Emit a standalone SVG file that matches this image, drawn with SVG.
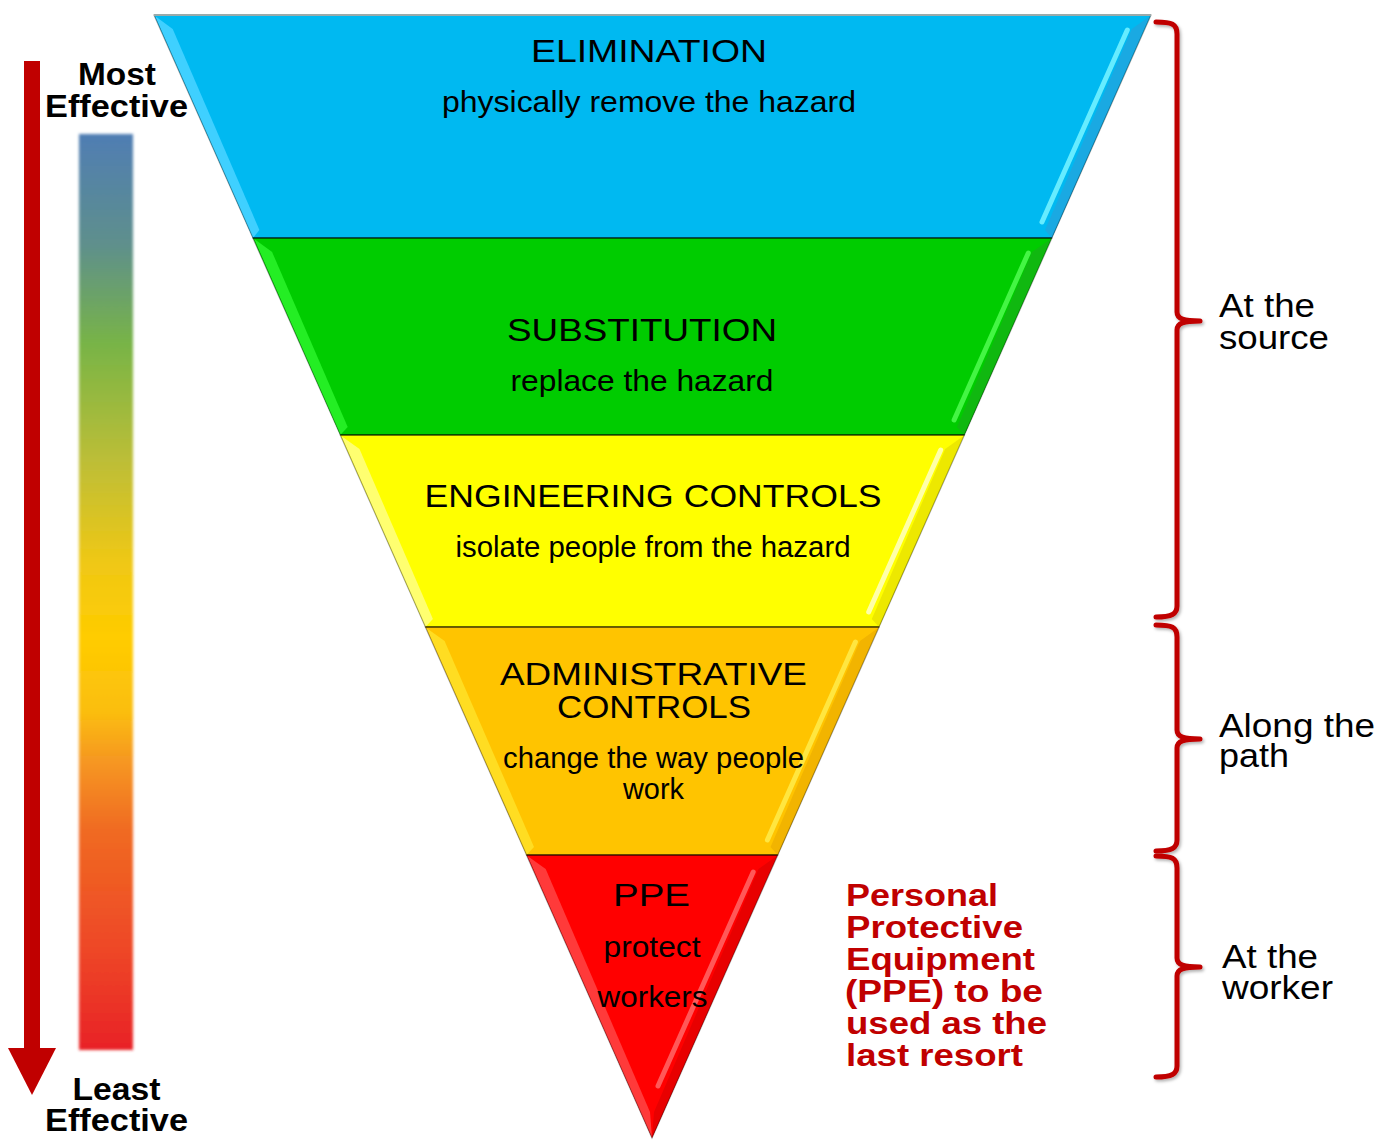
<svg xmlns="http://www.w3.org/2000/svg" width="1389" height="1140" viewBox="0 0 1389 1140">
<defs>
<linearGradient id="bar" x1="0" y1="0" x2="0" y2="1">
<stop offset="0" stop-color="#4F7DB3"/>
<stop offset="0.12" stop-color="#5E8F8C"/>
<stop offset="0.23" stop-color="#78B446"/>
<stop offset="0.36" stop-color="#BEBE36"/>
<stop offset="0.47" stop-color="#F0C814"/>
<stop offset="0.55" stop-color="#FFCC00"/>
<stop offset="0.63" stop-color="#FBBE0E"/>
<stop offset="0.68" stop-color="#F69A20"/>
<stop offset="0.76" stop-color="#F06A22"/>
<stop offset="0.88" stop-color="#EE4A26"/>
<stop offset="1" stop-color="#E82226"/>
</linearGradient>
<filter id="soft" x="-20%" y="-5%" width="140%" height="110%"><feGaussianBlur stdDeviation="1.4"/></filter>
<filter id="sh" x="-20%" y="-5%" width="140%" height="110%"><feDropShadow dx="1.5" dy="2" stdDeviation="1.5" flood-color="#000" flood-opacity="0.3"/></filter>
</defs>
<style>
.h{font-family:"Liberation Sans",Arial,sans-serif;font-size:31px;fill:#000;text-anchor:middle}
.s{font-family:"Liberation Sans",Arial,sans-serif;font-size:29px;fill:#000;text-anchor:middle}
.b{font-family:"Liberation Sans",Arial,sans-serif;font-size:32px;font-weight:bold;fill:#000;text-anchor:middle}
.r{font-family:"Liberation Sans",Arial,sans-serif;font-size:32px;font-weight:bold;fill:#C00000}
.l{font-family:"Liberation Sans",Arial,sans-serif;font-size:34px;fill:#000}
.edge{fill:none;stroke:rgba(0,0,0,0.35);stroke-width:1.2}
.sep{stroke:rgba(0,0,0,0.45);stroke-width:2}
.hl{stroke-width:5;stroke-linecap:round}
.brace{fill:none;stroke:#C00000;stroke-width:5;stroke-linecap:round;stroke-linejoin:round}
</style>

<g id="scale">
<rect x="24" y="61" width="16" height="989" fill="#C00000"/>
<polygon points="8,1048 56,1048 32,1095" fill="#C00000"/>
<rect x="79" y="134" width="54" height="916" fill="url(#bar)" filter="url(#soft)"/>
<text class="b" x="117" y="85" textLength="78" lengthAdjust="spacingAndGlyphs">Most</text>
<text class="b" x="116.5" y="117" textLength="143" lengthAdjust="spacingAndGlyphs">Effective</text>
<text class="b" x="116.5" y="1100" textLength="88" lengthAdjust="spacingAndGlyphs">Least</text>
<text class="b" x="116.5" y="1131" textLength="143" lengthAdjust="spacingAndGlyphs">Effective</text>
</g>

<g id="elimination">
<polygon points="154,15 1151,15 1051.9,238 252.9,238" fill="#00B9F1"/>
<polygon points="155,16 252.9,238 259.4,230 172.7,29" fill="#3FD0FF"/>
<polygon points="1150,16 1051.9,238 1045,230 1131.8,29" fill="#1AA9E2"/>
<line class="hl" x1="1127.3" y1="30" x2="1042" y2="222" stroke="#66ECFF"/>
<polygon class="edge" points="154,15 1151,15 1051.9,238 252.9,238"/>
<line x1="154" y1="15" x2="1151" y2="15" stroke="#9AA" stroke-width="2"/>
<text class="h" x="649" y="62" textLength="236" lengthAdjust="spacingAndGlyphs">ELIMINATION</text>
<text class="s" x="649" y="112" textLength="414" lengthAdjust="spacingAndGlyphs">physically remove the hazard</text>
</g>

<g id="substitution">
<polygon points="252.9,238 1051.9,238 964.4,435 340.3,435" fill="#00CC00"/>
<polygon points="254.3,239 340.3,435 347.7,427 272.1,252" fill="#24EE24"/>
<polygon points="1050.9,239 964.4,435 957,427 1032,252" fill="#10B810"/>
<line class="hl" x1="1028.3" y1="253" x2="954.1" y2="420" stroke="#44F544"/>
<polygon class="edge" points="252.9,238 1051.9,238 964.4,435 340.3,435"/>
<text class="h" x="642" y="341" textLength="270" lengthAdjust="spacingAndGlyphs">SUBSTITUTION</text>
<text class="s" x="642" y="391" textLength="263" lengthAdjust="spacingAndGlyphs">replace the hazard</text>
</g>

<g id="engineering">
<polygon points="340.3,435 964.4,435 879.1,627 425.4,627" fill="#FFFF00"/>
<polygon points="341.3,436 425.4,627 432.9,619 359.5,449" fill="#FFFF70"/>
<polygon points="963.4,436 879.1,627 871.8,619 945.2,449" fill="#EDE800"/>
<line class="hl" x1="940.7" y1="450" x2="868.7" y2="612" stroke="#FFFFA8"/>
<polygon class="edge" points="340.3,435 964.4,435 879.1,627 425.4,627"/>
<text class="h" x="653" y="507" textLength="457" lengthAdjust="spacingAndGlyphs">ENGINEERING CONTROLS</text>
<text class="s" x="653" y="557" textLength="395" lengthAdjust="spacingAndGlyphs">isolate people from the hazard</text>
</g>

<g id="administrative">
<polygon points="425.4,627 879.1,627 777.8,855 526.5,855" fill="#FFC400"/>
<polygon points="426.4,628 526.5,855 534,847 444.6,641" fill="#FFDD22"/>
<polygon points="878.1,628 777.8,855 770.5,847 860,641" fill="#F2B400"/>
<line class="hl" x1="855.4" y1="642" x2="767.4" y2="840" stroke="#FFE640"/>
<polygon class="edge" points="425.4,627 879.1,627 777.8,855 526.5,855"/>
<text class="h" x="653.5" y="685" textLength="307" lengthAdjust="spacingAndGlyphs">ADMINISTRATIVE</text>
<text class="h" x="654" y="718" textLength="194" lengthAdjust="spacingAndGlyphs">CONTROLS</text>
<text class="s" x="653.5" y="768" textLength="301" lengthAdjust="spacingAndGlyphs">change the way people</text>
<text class="s" x="653.5" y="799" textLength="61" lengthAdjust="spacingAndGlyphs">work</text>
</g>

<g id="ppe">
<polygon points="526.5,855 777.8,855 652,1138" fill="#FF0000"/>
<polygon points="527.5,856 652,1138 650,1112 545.7,869" fill="#FF3A3A"/>
<polygon points="776.8,856 652,1138 654,1112 758.5,869" fill="#E80000"/>
<line class="hl" x1="753.2" y1="872" x2="658" y2="1086" stroke="#FF5858"/>
<polygon class="edge" points="526.5,855 777.8,855 652,1138"/>
<line class="sep" x1="252.9" y1="238" x2="1051.9" y2="238"/>
<line class="sep" x1="340.3" y1="435" x2="964.4" y2="435"/>
<line class="sep" x1="425.4" y1="627" x2="879.1" y2="627"/>
<line class="sep" x1="526.5" y1="855" x2="777.8" y2="855"/>
<text class="h" x="651.5" y="906" font-size="34" textLength="77" lengthAdjust="spacingAndGlyphs">PPE</text>
<text class="s" x="652" y="957" textLength="97" lengthAdjust="spacingAndGlyphs">protect</text>
<text class="s" x="652.5" y="1007" textLength="110" lengthAdjust="spacingAndGlyphs">workers</text>
</g>

<g id="ppe-note">
<text class="r" x="846" y="906" textLength="152" lengthAdjust="spacingAndGlyphs">Personal</text>
<text class="r" x="846" y="938" textLength="177" lengthAdjust="spacingAndGlyphs">Protective</text>
<text class="r" x="846" y="970" textLength="189" lengthAdjust="spacingAndGlyphs">Equipment</text>
<text class="r" x="845" y="1002" textLength="198" lengthAdjust="spacingAndGlyphs">(PPE) to be</text>
<text class="r" x="846" y="1034" textLength="201" lengthAdjust="spacingAndGlyphs">used as the</text>
<text class="r" x="846" y="1066" textLength="177" lengthAdjust="spacingAndGlyphs">last resort</text>
</g>

<g id="connectors" filter="url(#sh)">
<path class="brace" d="M1156,22 C1172,22 1177,24 1177,34 L1177,312 C1177,319 1184,321 1200,321 C1184,321 1177,323 1177,330 L1177,606 C1177,614 1172,617 1156,617"/>
<path class="brace" d="M1156,625 C1172,625 1177,627 1177,637 L1177,730 C1177,737 1184,739 1200,739 C1184,739 1177,741 1177,748 L1177,840 C1177,848 1172,851 1156,851"/>
<path class="brace" d="M1156,856 C1172,856 1177,858 1177,868 L1177,958 C1177,965 1184,967 1200,967 C1184,967 1177,969 1177,976 L1177,1066 C1177,1074 1172,1077 1156,1077"/>
</g>

<g id="label-source">
<text class="l" x="1219" y="317" textLength="96" lengthAdjust="spacingAndGlyphs">At the</text>
<text class="l" x="1219" y="349" textLength="110" lengthAdjust="spacingAndGlyphs">source</text>
</g>
<g id="label-path">
<text class="l" x="1219" y="737" textLength="156" lengthAdjust="spacingAndGlyphs">Along the</text>
<text class="l" x="1219" y="767" textLength="70" lengthAdjust="spacingAndGlyphs">path</text>
</g>
<g id="label-worker">
<text class="l" x="1222" y="968" textLength="96" lengthAdjust="spacingAndGlyphs">At the</text>
<text class="l" x="1222" y="999" textLength="111" lengthAdjust="spacingAndGlyphs">worker</text>
</g>
</svg>
